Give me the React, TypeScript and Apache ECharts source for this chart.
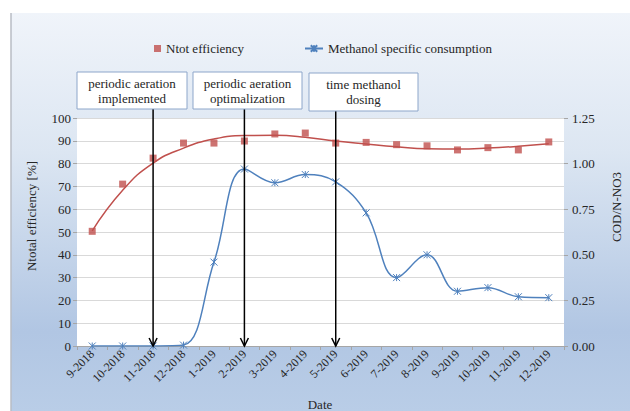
import React, { useEffect, useRef } from "react";
import * as echarts from "echarts";

const categories = [
  "9-2018", "10-2018", "11-2018", "12-2018", "1-2019", "2-2019", "3-2019", "4-2019",
  "5-2019", "6-2019", "7-2019", "8-2019", "9-2019", "10-2019", "11-2019", "12-2019",
];
const ntotEfficiency = [50.3, 71, 82.4, 89, 89, 89.9, 93, 93.4, 89, 89.3, 88.3, 87.8, 86, 87, 86, 89.5];
const ntotTrend = [50.5, 68.3, 80.2, 86.8, 90.8, 92.3, 92.4, 91.6, 89.9, 88.6, 87.4, 86.5, 86.4, 86.8, 87.6, 88.7];
const methanolConsumption = [0, 0, 0, 0.005, 0.46, 0.97, 0.895, 0.94, 0.9, 0.73, 0.375, 0.5, 0.3, 0.32, 0.27, 0.265];
const leftTicks = { min: 0, max: 100, interval: 10 };
const rightTicks = { min: 0, max: 1.25, interval: 0.25 };
const events = [
  { at: "11-2018", text: "periodic aeration\nimplemented", box: [77, 72, 110, 37] },
  { at: "2-2019", text: "periodic aeration\noptimalization", box: [193, 72, 109, 37] },
  { at: "5-2019", text: "time methanol\ndosing", box: [309, 73, 109, 38] },
];

const FONT = "Times New Roman";
const TXT = "#262626";
const RED = "#c0504d";
const BLUE = "#4f81bd";

export default function App() {
  const ref = useRef<HTMLDivElement>(null);
  useEffect(() => {
    if (!ref.current) return;
    const chart = echarts.init(ref.current, null, { renderer: "svg" });
    const gridTop = 118;
    const gridBottom = 65;
    const label = { fontFamily: FONT, color: TXT };
    const option: any = {
      animation: false,
      textStyle: { fontFamily: FONT, color: TXT },
      legend: [
        {
          data: ["Ntot efficiency"],
          left: 149,
          top: 37,
          icon: "rect",
          itemWidth: 7,
          itemHeight: 7,
          itemGap: 5,
          textStyle: { ...label, fontSize: 13 },
        },
        {
          data: ["Methanol specific consumption"],
          left: 299,
          top: 37,
          itemWidth: 18,
          itemHeight: 8,
          textStyle: { ...label, fontSize: 13 },
        },
      ],
      grid: {
        left: 77,
        right: 66,
        top: gridTop,
        bottom: gridBottom,
        show: true,
        backgroundColor: "#ffffff",
        borderWidth: 0,
        containLabel: false,
      },
      xAxis: {
        type: "category",
        data: categories,
        boundaryGap: true,
        axisLine: { show: true, lineStyle: { color: "#a6a6a6", width: 1 } },
        axisTick: { show: true, alignWithLabel: false, length: 4, lineStyle: { color: "#a6a6a6" } },
        axisLabel: { ...label, rotate: 45, fontSize: 12, margin: 6, interval: 0 },
        splitLine: { show: false },
      },
      yAxis: [
        {
          type: "value",
          min: leftTicks.min,
          max: leftTicks.max,
          interval: leftTicks.interval,
          axisLine: { show: false },
          axisTick: { show: true, length: 4, lineStyle: { color: "#a6a6a6" } },
          axisLabel: { ...label, fontSize: 13, margin: 6 },
          splitLine: { show: true, lineStyle: { color: "#d9d9d9", width: 1 } },
        },
        {
          type: "value",
          min: rightTicks.min,
          max: rightTicks.max,
          interval: rightTicks.interval,
          position: "right",
          axisLine: { show: false },
          axisTick: { show: true, length: 4, lineStyle: { color: "#a6a6a6" } },
          axisLabel: {
            ...label,
            fontSize: 13,
            margin: 8,
            formatter: (v: number) => v.toFixed(2),
          },
          splitLine: { show: false },
        },
      ],
      series: [
        {
          name: "trend",
          type: "line",
          data: ntotTrend,
          yAxisIndex: 0,
          smooth: 0.5,
          showSymbol: false,
          symbol: "none",
          lineStyle: { color: RED, width: 1.5 },
          z: 3,
          silent: true,
        },
        {
          name: "Ntot efficiency",
          type: "scatter",
          data: ntotEfficiency,
          yAxisIndex: 0,
          symbol: "rect",
          symbolSize: 7,
          itemStyle: { color: RED },
          z: 4,
        },
        {
          name: "Methanol specific consumption",
          type: "line",
          data: methanolConsumption,
          yAxisIndex: 1,
          smooth: 0.4,
          symbol: "path://M0,0L10,10M10,0L0,10M5,0L5,10",
          symbolSize: 7,
          showSymbol: true,
          lineStyle: { color: BLUE, width: 1.5 },
          itemStyle: { color: "none", borderColor: BLUE, borderWidth: 1 },
          z: 5,
        },
      ],
    };
    chart.setOption(option);

    const h = 411;
    const axisY = h - gridBottom;
    const txt = (text: string, x: number, y: number, rot = 0) => ({
      type: "text",
      x,
      y,
      rotation: rot,
      style: {
        text,
        fontFamily: FONT,
        fontSize: 13,
        fill: TXT,
        align: "center",
        verticalAlign: "middle",
      },
    });
    const graphics: any[] = [
      {
        type: "rect",
        z: -10,
        shape: { x: 11, y: 13, width: 619, height: 398 },
        style: {
          fill: new echarts.graphic.LinearGradient(0, 0, 0, 1, [
            { offset: 0, color: "#f0f4fa" },
            { offset: 0.35, color: "#dce6f2" },
            { offset: 0.8, color: "#b1c6e3" },
            { offset: 1, color: "#b9cde7" },
          ]),
        },
        silent: true,
      },
      {
        type: "line",
        z: -9,
        shape: { x1: 11, y1: 13, x2: 11, y2: 411 },
        style: { stroke: "#b8bcc4", lineWidth: 1.5 },
        silent: true,
      },
      txt("Ntotal efficiency [%]", 31, 216, Math.PI / 2),
      txt("COD/N-NO3", 616, 207, Math.PI / 2),
      txt("Date", 320, 404),
    ];
    events.forEach((ev) => {
      const px = chart.convertToPixel({ xAxisIndex: 0 }, ev.at) as number;
      const [bx, by, bw, bh] = ev.box;
      const y1 = by + bh;
      graphics.push(
        {
          type: "line",
          z: 20,
          shape: { x1: px, y1, x2: px, y2: axisY },
          style: { stroke: "#000", lineWidth: 1.5 },
        },
        {
          type: "polyline",
          z: 20,
          shape: { points: [[px - 4, axisY - 8], [px, axisY], [px + 4, axisY - 8]] },
          style: { stroke: "#000", lineWidth: 1.5, fill: null },
        },
        {
          type: "rect",
          z: 21,
          shape: { x: bx, y: by, width: bw, height: bh },
          style: { fill: "#ffffff", stroke: "#8da6ca", lineWidth: 1 },
        },
        {
          type: "text",
          z: 22,
          x: bx + bw / 2,
          y: by + bh / 2,
          style: {
            text: ev.text,
            fontFamily: FONT,
            fontSize: 13,
            lineHeight: 15,
            fill: TXT,
            align: "center",
            verticalAlign: "middle",
          },
        }
      );
    });
    chart.setOption({ graphic: graphics });

    return () => chart.dispose();
  }, []);
  return (
    <div
      ref={ref}
      style={{ position: "fixed", left: 0, top: 0, width: 630, height: 411, background: "#ffffff" }}
    />
  );
}
